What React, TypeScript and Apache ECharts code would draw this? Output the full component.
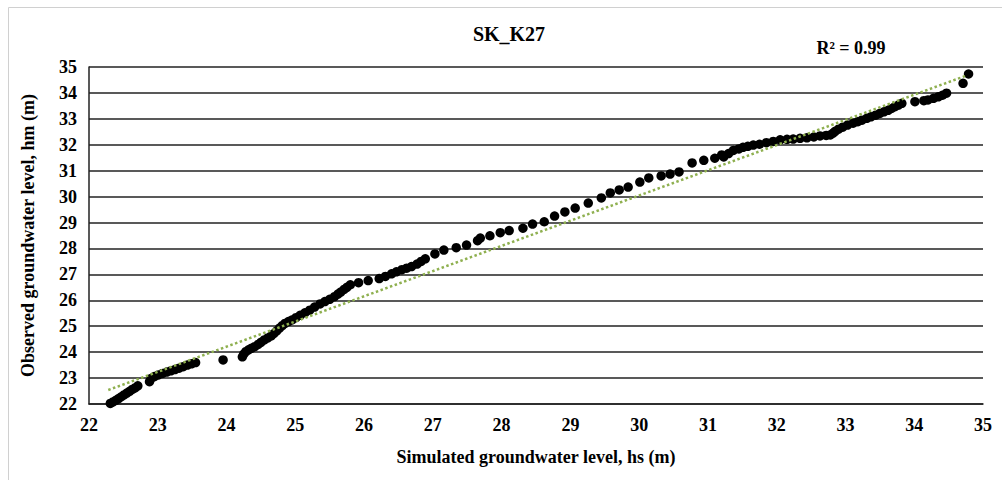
import React, { useEffect, useRef } from "react";
import * as echarts from "echarts";

// Simulated groundwater level hs (m) for each observation
const simulated: number[] = [
  22.28, 22.31, 22.35, 22.39, 22.43, 22.47, 22.51, 22.55, 22.59, 22.63, 22.67, 22.71,
  22.88, 22.9, 22.95, 23.01, 23.07, 23.13, 23.19, 23.25, 23.31, 23.37, 23.43, 23.49, 23.55,
  23.95,
  24.23, 24.25, 24.28, 24.32, 24.36, 24.41, 24.46, 24.5, 24.55, 24.6, 24.65, 24.69, 24.73,
  24.77, 24.81, 24.85, 24.9, 24.95, 25.01, 25.07, 25.14, 25.21, 25.28, 25.36, 25.43, 25.5,
  25.57, 25.62, 25.66, 25.71, 25.75, 25.8, 25.92, 26.06,
  26.22, 26.31, 26.4, 26.47, 26.55, 26.62, 26.69, 26.77, 26.83, 26.89, 27.03, 27.16, 27.34,
  27.49, 27.65, 27.69, 27.83, 27.98, 28.11, 28.31, 28.45, 28.62, 28.77,
  28.92, 29.07, 29.26, 29.45, 29.58, 29.71, 29.84, 30.01, 30.14, 30.32, 30.45, 30.58, 30.77,
  30.94, 31.1, 31.2, 31.23, 31.3, 31.37, 31.45, 31.51, 31.58, 31.66, 31.75, 31.85, 31.95,
  32.05, 32.15, 32.24, 32.34, 32.44, 32.54, 32.63, 32.72, 32.78, 32.82, 32.85, 32.9, 32.96,
  33.03, 33.11, 33.18, 33.24, 33.31, 33.37, 33.44, 33.5, 33.56, 33.62, 33.67, 33.72, 33.77,
  33.82,
  34.01, 34.14, 34.2, 34.28, 34.35, 34.41, 34.47, 34.71, 34.79,
];

// Observed groundwater level hm (m), same order as above
const observed: number[] = [
  21.97, 22.02, 22.08, 22.14, 22.21, 22.28, 22.35, 22.42, 22.49, 22.56, 22.62, 22.7,
  22.86, 22.98, 23.06, 23.12, 23.18, 23.23, 23.28, 23.33, 23.38, 23.44, 23.5, 23.55, 23.6,
  23.7,
  23.82, 23.92, 24.02, 24.09, 24.15, 24.21, 24.3, 24.38, 24.47, 24.55, 24.63, 24.72, 24.82,
  24.93, 25.02, 25.11, 25.18, 25.24, 25.33, 25.42, 25.52, 25.62, 25.74, 25.86, 25.95, 26.04,
  26.14, 26.24, 26.32, 26.42, 26.5, 26.6, 26.68, 26.76,
  26.84, 26.92, 27.02, 27.1, 27.18, 27.24, 27.3, 27.4, 27.5, 27.6, 27.79, 27.94, 28.03,
  28.13, 28.3, 28.4, 28.49, 28.61, 28.69, 28.78, 28.94, 29.03, 29.25,
  29.41, 29.56, 29.75, 29.95, 30.14, 30.26, 30.37, 30.56, 30.72, 30.8, 30.87, 30.95, 31.3,
  31.4, 31.48, 31.61, 31.53, 31.66, 31.78, 31.84, 31.9, 31.94, 31.99, 32.02, 32.08, 32.13,
  32.19, 32.21, 32.22, 32.25, 32.27, 32.3, 32.34, 32.36, 32.38, 32.45, 32.52, 32.6, 32.68,
  32.76, 32.83, 32.89, 32.95, 33.02, 33.08, 33.14, 33.21, 33.27, 33.33, 33.4, 33.47, 33.53,
  33.6,
  33.66, 33.7, 33.73, 33.79, 33.85, 33.91, 33.99, 34.37, 34.73,
];

// Linear trendline end points (hs, hm)
const trendSim: number[] = [22.28, 34.75];
const trendObs: number[] = [22.54, 34.66];

const axisTicks: number[] = [22, 23, 24, 25, 26, 27, 28, 29, 30, 31, 32, 33, 34, 35];

const chartTitle = "SK_K27";
const rSquaredLabel = "R² = 0.99";
const xName = "Simulated groundwater level, hs (m)";
const yName = "Observed groundwater level, hm (m)";

const FONT = "'Liberation Serif', 'Times New Roman', serif";

export default function App() {
  const ref = useRef<HTMLDivElement>(null);

  useEffect(() => {
    if (!ref.current) return;
    const chart = echarts.init(ref.current, undefined, { renderer: "svg" });
    const points = simulated.map((s, i) => [s, observed[i]]);
    const trend = trendSim.map((s, i) => [s, trendObs[i]]);
    const tickMin = axisTicks[0];
    const tickMax = axisTicks[axisTicks.length - 1];

    chart.setOption({
      animation: false,
      backgroundColor: "#ffffff",
      textStyle: { fontFamily: FONT },
      grid: { left: 89, right: 19, top: 67, bottom: 76, containLabel: false },
      xAxis: {
        type: "value",
        min: tickMin,
        max: tickMax,
        interval: 1,
        name: xName,
        nameLocation: "middle",
        nameGap: 44,
        nameTextStyle: { fontFamily: FONT, fontWeight: "bold", fontSize: 18, color: "#000" },
        axisLine: { show: true, lineStyle: { color: "#222", width: 1.5 } },
        axisTick: { show: false },
        splitLine: { show: false },
        axisLabel: { fontFamily: FONT, fontWeight: "bold", fontSize: 18, color: "#000", margin: 12 },
      },
      yAxis: {
        type: "value",
        min: tickMin,
        max: tickMax,
        interval: 1,
        name: yName,
        nameLocation: "middle",
        nameGap: 52,
        nameTextStyle: { fontFamily: FONT, fontWeight: "bold", fontSize: 18, color: "#000" },
        axisLine: { show: true, lineStyle: { color: "#222", width: 1.5 } },
        axisTick: { show: false },
        splitLine: { show: true, lineStyle: { color: "#222", width: 1.5 } },
        axisLabel: { fontFamily: FONT, fontWeight: "bold", fontSize: 18, color: "#000", margin: 12 },
      },
      graphic: [
        {
          type: "rect",
          shape: { x: 8.5, y: 7.5, width: 1000, height: 480 },
          style: { fill: "none", stroke: "#d0d0d0", lineWidth: 1 },
          silent: true,
        },
        {
          type: "text",
          x: 509,
          y: 34,
          style: {
            text: chartTitle,
            fontFamily: FONT,
            fontWeight: "bold",
            fontSize: 20,
            fill: "#000",
            textAlign: "center",
            textVerticalAlign: "middle",
          },
        },
        {
          type: "text",
          x: 851,
          y: 48,
          style: {
            text: rSquaredLabel,
            fontFamily: FONT,
            fontWeight: "bold",
            fontSize: 18,
            fill: "#000",
            textAlign: "center",
            textVerticalAlign: "middle",
          },
        },
      ],
      series: [
        {
          type: "scatter",
          data: points,
          symbol: "circle",
          symbolSize: 9.5,
          itemStyle: { color: "#000000", opacity: 1 },
          z: 2,
        },
        {
          type: "line",
          data: trend,
          symbol: "none",
          lineStyle: { color: "#8fb050", width: 2.5, type: [2.5, 2.5] },
          z: 3,
        },
      ],
    });

    return () => chart.dispose();
  }, []);

  return (
    <div
      ref={ref}
      style={{ position: "fixed", left: 0, top: 0, width: 1002, height: 480 }}
    />
  );
}
